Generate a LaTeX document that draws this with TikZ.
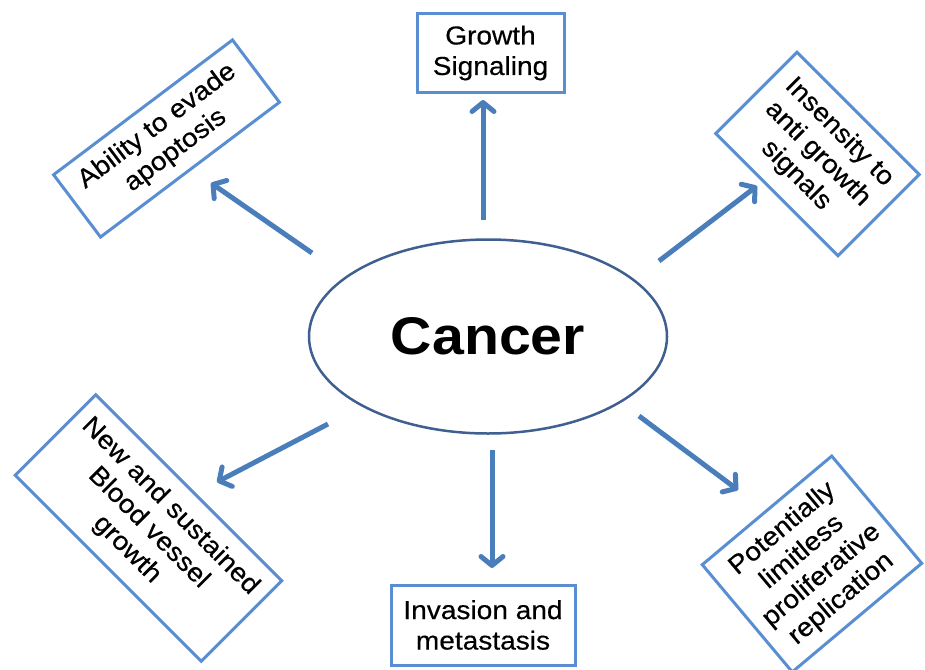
\documentclass[tikz,border=0pt]{standalone}
\usepackage{fontspec}
\setmainfont{Liberation Sans}[FakeStretch=1.08,FakeBold=0.4]
\newfontfamily\boldsans{Liberation Sans Bold}[FakeStretch=1.08]
\usetikzlibrary{arrows.meta,shapes.geometric}
\definecolor{boxblue}{HTML}{5A8ED3}
\definecolor{arrblue}{HTML}{4A7EBB}
\definecolor{ellblue}{HTML}{3E5F90}
\tikzset{
  infobox/.style={draw=boxblue, line width=3pt, fill=white, align=center,
    inner sep=2pt, font=\fontsize{26}{30.5}\selectfont},
  arr/.style={draw=arrblue, line width=5pt,
    -{Straight Barb[length=9pt,width=22pt,round]}},
}
\begin{document}
\begin{tikzpicture}[x=1pt,y=-1pt]
\path[use as bounding box] (0,0) rectangle (925,669);
% centre
\node[ellipse, draw=ellblue, line width=2.5pt, inner sep=0pt,
      minimum width=358pt, minimum height=194pt,
      font=\boldsans\fontsize{53}{60}\selectfont] (cancer) at (488,336.5) {Cancer};
% boxes
\node[infobox, minimum width=147pt, minimum height=78pt] (growth) at (490.5,53)
  {Growth\\Signaling};
\node[infobox, minimum width=184pt, minimum height=80pt] (invasion) at (483,625)
  {Invasion and\\metastasis};
\node[infobox, rotate=37, minimum width=224pt, minimum height=78pt] (apoptosis)
  at (166.5,138.5) {Ability to evade\\apoptosis};
\node[infobox, rotate=-45, minimum width=173pt, minimum height=115pt] (insens)
  at (817.5,154) {Insensity to\\anti growth\\signals};
\node[infobox, rotate=-45, minimum width=263pt, minimum height=114pt] (blood)
  at (148.5,528) {New and sustained\\Blood vessel\\growth};
\node[infobox, rotate=40, minimum width=169pt, minimum height=140pt] (replic)
  at (812,564) {Potentially\\limitless\\proliferative\\replication};
% arrow end points
\coordinate (a1s) at (483,220); \coordinate (a1e) at (483,100);
\coordinate (a2s) at (312,253); \coordinate (a2e) at (211,183);
\coordinate (a3s) at (659,261); \coordinate (a3e) at (757,186);
\coordinate (a4s) at (328,424); \coordinate (a4e) at (217,482);
\coordinate (a5s) at (492,450); \coordinate (a5e) at (492,568);
\coordinate (a6s) at (639,416); \coordinate (a6e) at (738,490);
\draw[arr] (a1s) -- (a1e);
\draw[arr] (a2s) -- (a2e);
\draw[arr] (a3s) -- (a3e);
\draw[arr] (a4s) -- (a4e);
\draw[arr] (a5s) -- (a5e);
\draw[arr] (a6s) -- (a6e);
\end{tikzpicture}
\end{document}
